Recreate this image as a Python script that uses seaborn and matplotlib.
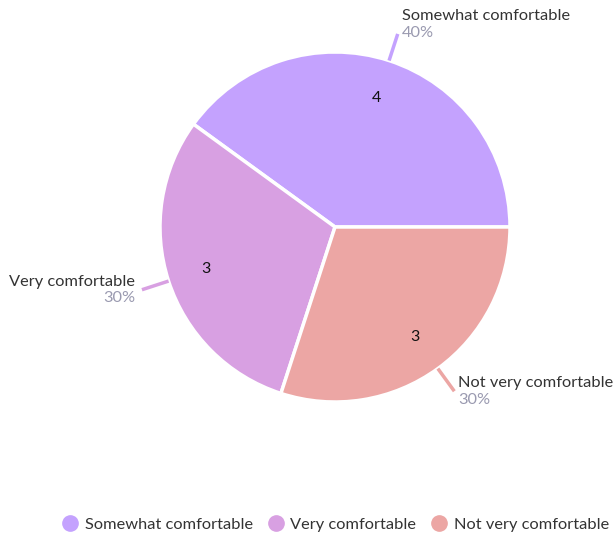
import numpy as np
import matplotlib.pyplot as plt
import seaborn as sns
from matplotlib.lines import Line2D

categories = ["Somewhat comfortable", "Very comfortable", "Not very comfortable"]
counts = [4, 3, 3]
colors = ["#c4a2fe", "#d8a0e2", "#eca6a4"]

sns.set_theme(style="white")
plt.rcParams['font.family'] = ['Lato', 'DejaVu Sans']

W, H = 613, 538
fig = plt.figure(figsize=(W / 100, H / 100), dpi=100)
ax = fig.add_axes([0, 0, 1, 1])

cx, cy, r = 335, H - 227, 175
total = sum(counts)

wedges, _, autotexts = ax.pie(
    counts, colors=colors, startangle=0, counterclock=True,
    center=(cx, cy), radius=r, frame=True,
    autopct=lambda p: f"{round(p * total / 100)}", pctdistance=0.775,
    wedgeprops=dict(edgecolor='white', linewidth=2.5),
    textprops=dict(color='#111111', fontsize=11.5),
)
ax.set_xlim(0, W)
ax.set_ylim(0, H)
ax.set_aspect('equal')
ax.axis('off')

for w, cat, n, col in zip(wedges, categories, counts, colors):
    mid = np.deg2rad((w.theta1 + w.theta2) / 2)
    c, s = np.cos(mid), np.sin(mid)
    x0, y0 = cx + r * c, cy + r * s
    x1, y1 = cx + (r + 28) * c, cy + (r + 28) * s
    ax.plot([x0, x1], [y0, y1], color=col, lw=2.5, solid_capstyle='butt')
    ha = 'left' if c >= 0 else 'right'
    tx = x1 + (4 if c >= 0 else -7)
    ny = y1 + 8 + 10 * max(s, 0)
    ax.text(tx, ny, cat, ha=ha, va='center', fontsize=11.8, color='#333333')
    ax.text(tx, ny - 16.5, f"{round(100 * n / total)}%", ha=ha, va='center',
            fontsize=11.8, color='#9a9ab0')

handles = [Line2D([], [], marker='o', ls='', markersize=11, markerfacecolor=c,
                  markeredgecolor=c) for c in colors]
fig.legend(handles, categories, loc='lower right', bbox_to_anchor=(1.018, -0.016),
           ncol=3, frameon=False, fontsize=11.8, handletextpad=0.3,
           columnspacing=0.8, handlelength=1.2, labelcolor='#333333')

fig.savefig("out.png", dpi=100)
